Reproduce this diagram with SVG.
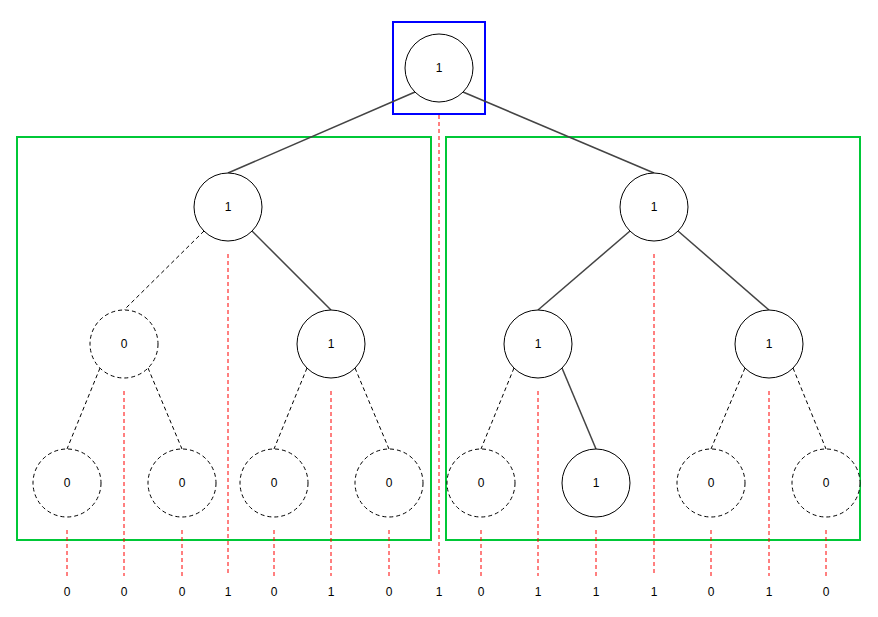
<svg xmlns="http://www.w3.org/2000/svg" width="878" height="617" viewBox="0 0 878 617">
<style>
.n{fill:#fff;stroke:#000;stroke-width:1}
.z{fill:#fff;stroke:#000;stroke-width:1;stroke-dasharray:4,3}
.s{stroke:#444;stroke-width:1.5;fill:none}
.d{stroke:#000;stroke-width:1;stroke-dasharray:4,3;fill:none}
.r{stroke:#f00;stroke-width:1;stroke-dasharray:4,3;fill:none}
.g{fill:none;stroke:#00c837;stroke-width:2}
text{font-family:"Liberation Sans",Arial,sans-serif;font-size:12px;fill:#000;text-anchor:middle}
</style>
<rect width="878" height="617" fill="#fff"/>
<g id="frames">
<rect class="g" x="17" y="137" width="414" height="403"/>
<rect class="g" x="446" y="137" width="414" height="403"/>
<rect x="393" y="22" width="92" height="92" fill="none" stroke="#0000ff" stroke-width="2"/>
</g>
<g id="connectors">
<line class="s" x1="415" y1="92" x2="228" y2="173"/>
<line class="s" x1="463" y1="92" x2="654" y2="173"/>
<line class="d" x1="204" y1="231" x2="124" y2="310"/>
<line class="s" x1="252" y1="231" x2="331" y2="310"/>
<line class="s" x1="630" y1="231" x2="538" y2="310"/>
<line class="s" x1="678" y1="231" x2="769" y2="310"/>
<line class="d" x1="100" y1="368" x2="67" y2="449"/>
<line class="d" x1="148" y1="368" x2="182" y2="449"/>
<line class="d" x1="307" y1="368" x2="274" y2="449"/>
<line class="d" x1="355" y1="368" x2="389" y2="449"/>
<line class="d" x1="514" y1="368" x2="481" y2="449"/>
<line class="s" x1="562" y1="368" x2="596" y2="449"/>
<line class="d" x1="745" y1="368" x2="711" y2="449"/>
<line class="d" x1="793" y1="368" x2="826" y2="449"/>
<line class="r" x1="439" y1="115" x2="439" y2="576"/>
<line class="r" x1="228" y1="254" x2="228" y2="576"/>
<line class="r" x1="654" y1="254" x2="654" y2="576"/>
<line class="r" x1="124" y1="391" x2="124" y2="576"/>
<line class="r" x1="331" y1="391" x2="331" y2="576"/>
<line class="r" x1="538" y1="391" x2="538" y2="576"/>
<line class="r" x1="769" y1="391" x2="769" y2="576"/>
<line class="r" x1="67" y1="530" x2="67" y2="576"/>
<line class="r" x1="182" y1="530" x2="182" y2="576"/>
<line class="r" x1="274" y1="530" x2="274" y2="576"/>
<line class="r" x1="389" y1="530" x2="389" y2="576"/>
<line class="r" x1="481" y1="530" x2="481" y2="576"/>
<line class="r" x1="596" y1="530" x2="596" y2="576"/>
<line class="r" x1="711" y1="530" x2="711" y2="576"/>
<line class="r" x1="826" y1="530" x2="826" y2="576"/>
</g>
<g id="root"><circle class="n" cx="439" cy="68" r="34"/><text x="439" y="72">1</text></g>
<g id="n1"><circle class="n" cx="228" cy="207" r="34"/><text x="228" y="211">1</text></g>
<g id="n2"><circle class="n" cx="654" cy="207" r="34"/><text x="654" y="211">1</text></g>
<g id="n3"><circle class="z" cx="124" cy="344" r="34"/><text x="124" y="348">0</text></g>
<g id="n4"><circle class="n" cx="331" cy="344" r="34"/><text x="331" y="348">1</text></g>
<g id="n5"><circle class="n" cx="538" cy="344" r="34"/><text x="538" y="348">1</text></g>
<g id="n6"><circle class="n" cx="769" cy="344" r="34"/><text x="769" y="348">1</text></g>
<g id="n7"><circle class="z" cx="67" cy="483" r="34"/><text x="67" y="487">0</text></g>
<g id="n8"><circle class="z" cx="182" cy="483" r="34"/><text x="182" y="487">0</text></g>
<g id="n9"><circle class="z" cx="274" cy="483" r="34"/><text x="274" y="487">0</text></g>
<g id="n10"><circle class="z" cx="389" cy="483" r="34"/><text x="389" y="487">0</text></g>
<g id="n11"><circle class="z" cx="481" cy="483" r="34"/><text x="481" y="487">0</text></g>
<g id="n12"><circle class="n" cx="596" cy="483" r="34"/><text x="596" y="487">1</text></g>
<g id="n13"><circle class="z" cx="711" cy="483" r="34"/><text x="711" y="487">0</text></g>
<g id="n14"><circle class="z" cx="826" cy="483" r="34"/><text x="826" y="487">0</text></g>
<g id="labels">
<text x="67" y="596">0</text>
<text x="124" y="596">0</text>
<text x="182" y="596">0</text>
<text x="228" y="596">1</text>
<text x="274" y="596">0</text>
<text x="331" y="596">1</text>
<text x="389" y="596">0</text>
<text x="439" y="596">1</text>
<text x="481" y="596">0</text>
<text x="538" y="596">1</text>
<text x="596" y="596">1</text>
<text x="654" y="596">1</text>
<text x="711" y="596">0</text>
<text x="769" y="596">1</text>
<text x="826" y="596">0</text>
</g>
</svg>
